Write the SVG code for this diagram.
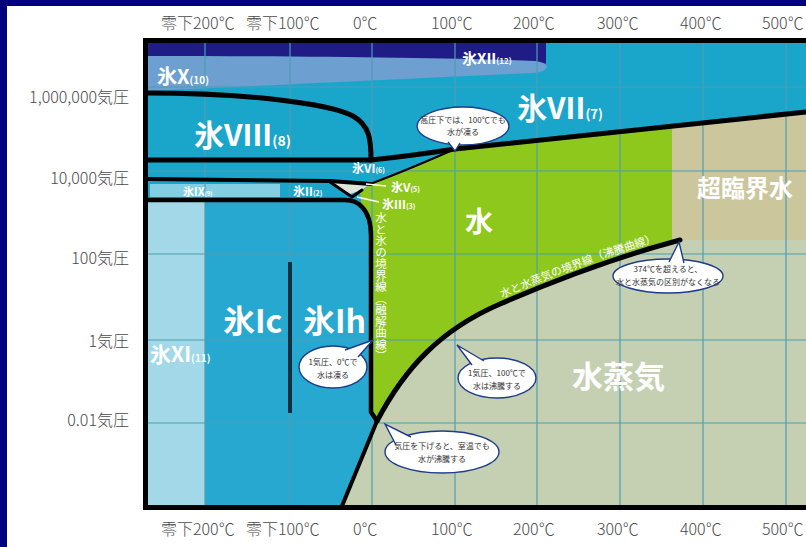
<svg xmlns="http://www.w3.org/2000/svg" width="806" height="547" viewBox="0 0 806 547">
<style>
.ax{font-family:"Noto Sans CJK JP","Noto Sans",sans-serif;font-size:16px;font-weight:300;fill:#4a4a4a}
.ay{font-family:"Noto Sans CJK JP","Noto Sans",sans-serif;font-size:16px;font-weight:300;fill:#4a4a4a;text-anchor:end}
.lb{font-family:"Noto Sans CJK JP","Noto Sans",sans-serif;font-weight:bold;fill:#fff}
.lt{font-family:"Noto Sans CJK JP","Noto Sans",sans-serif;font-weight:normal;fill:#fff}
.grid line{stroke:#4d9eb1;stroke-width:1.2}
.bl{stroke:#000;fill:none;stroke-linecap:round;stroke-linejoin:round}
.co{fill:#fff;stroke:#1f3c8c;stroke-width:1.4}
.ct{font-family:"Noto Sans CJK JP",sans-serif;font-size:8px;fill:#333;text-anchor:middle}
.ptr{stroke:#fff;stroke-width:1.3}
</style>
<rect width="806" height="547" fill="#fff"/>
<rect width="806" height="6" fill="#01017f"/>
<rect width="7" height="547" fill="#01017f"/>

<g id="axis-x-top">
<text class="ax" x="161" y="29">零下200℃</text>
<text class="ax" x="246" y="29">零下100℃</text>
<text class="ax" x="353" y="29">0℃</text>
<text class="ax" x="431" y="29">100℃</text>
<text class="ax" x="513" y="29">200℃</text>
<text class="ax" x="597" y="29">300℃</text>
<text class="ax" x="680" y="29">400℃</text>
<text class="ax" x="762" y="29">500℃</text>
</g>
<g id="axis-x-bottom">
<text class="ax" x="161" y="535">零下200℃</text>
<text class="ax" x="246" y="535">零下100℃</text>
<text class="ax" x="353" y="535">0℃</text>
<text class="ax" x="431" y="535">100℃</text>
<text class="ax" x="513" y="535">200℃</text>
<text class="ax" x="597" y="535">300℃</text>
<text class="ax" x="680" y="535">400℃</text>
<text class="ax" x="762" y="535">500℃</text>
</g>
<g id="axis-y">
<text class="ay" x="129" y="103">1,000,000気圧</text>
<text class="ay" x="129" y="184">10,000気圧</text>
<text class="ay" x="129" y="264">100気圧</text>
<text class="ay" x="129" y="347">1気圧</text>
<text class="ay" x="129" y="426">0.01気圧</text>
</g>

<g id="regions">
<rect x="147" y="42" width="659" height="464" fill="#1aa6cb"/>
<path id="ice-top" d="M147,42 H546 V61 Q546,69 538,69 H147 Z" fill="#1f1c86"/>
<path id="ice-x" d="M147,56 C300,56 460,58 535,61 Q548,63 547,67 Q546,72 533,73 C460,76 300,84 147,91 Z" fill="#6d9fd0"/>
<path id="water" d="M360,193 L370,184 Q405,171 455,149 L672,126 L672,240 L680,240 C620,256 560,278 500,304 C440,330 405,368 377,421 L371,412 L371,236 Q371,216 362,207 Z" fill="#8fc81c"/>
<path id="supercritical" d="M672,126 L806,112 V240 H672 Z" fill="#cbc69c"/>
<path id="vapor" d="M342,506 L377,421 C405,368 440,330 500,304 C560,278 620,256 680,240 L806,240 V506 Z" fill="#c4d0b1"/>
<path id="ice-ih" d="M205,201 H345 Q356,201 362,207 Q371,216 371,236 V412 L377,421 L342,506 H205 Z" fill="#27a8d1"/>
<rect id="ice-xi" x="147" y="202" width="58" height="304" fill="#a3d8e9"/>
<rect id="ice-ix" x="150" y="184" width="130" height="13" fill="#84cee4"/>
<polygon id="ice-v" points="330,182 370,184 362,190 350,194" fill="#e2e6da"/>
</g>

<g class="grid" id="grid">
<line x1="205" y1="43" x2="205" y2="506"/>
<line x1="290" y1="43" x2="290" y2="506"/>
<line x1="372" y1="43" x2="372" y2="506"/>
<line x1="455" y1="43" x2="455" y2="506"/>
<line x1="537" y1="43" x2="537" y2="506"/>
<line x1="620" y1="43" x2="620" y2="506"/>
<line x1="703" y1="43" x2="703" y2="506"/>
<line x1="786" y1="43" x2="786" y2="506"/>
<line x1="147" y1="87" x2="806" y2="87"/>
<line x1="147" y1="171" x2="806" y2="171"/>
<line x1="147" y1="254" x2="806" y2="254"/>
<line x1="147" y1="340" x2="806" y2="340"/>
<line x1="147" y1="423" x2="806" y2="423"/>
</g>

<g id="connectors">
<path class="bl" stroke-width="5" d="M147,93 C250,93 330,104 353,116 C370,126 371,140 371,160"/>
<path class="bl" stroke-width="5" d="M147,160 L371,160 Q410,156 455,149 L806,112"/>
<path class="bl" stroke-width="2" d="M370,184 Q405,171 455,149"/>
<path class="bl" stroke-width="4" d="M147,179 L330,181 L371,184"/>
<path class="bl" stroke-width="3" d="M330,182 L352,197 L362,190"/>
<path class="bl" stroke-width="4.5" d="M147,200 L345,200 Q356,200 362,207 Q371,216 371,236 L371,412 L377,421"/>
<path class="bl" stroke-width="5" d="M377,421 C405,368 440,330 500,304 C560,278 620,256 680,240"/>
<path class="bl" stroke-width="4" d="M377,421 L342,506"/>
<path stroke="#0d2f3e" stroke-width="4" d="M290,262 V413"/>
<line class="ptr" x1="366" y1="184" x2="386" y2="186"/>
<line class="ptr" x1="357" y1="197" x2="379" y2="202"/>
</g>

<rect x="145.5" y="40.5" width="700" height="467" fill="none" stroke="#000" stroke-width="5"/>

<g id="labels">
<text class="lb" x="517" y="119" font-size="30">氷VII<tspan font-size="13">(7)</tspan></text>
<text class="lb" x="194" y="146" font-size="30">氷VIII<tspan font-size="14">(8)</tspan></text>
<text class="lb" x="157" y="84" font-size="20">氷X<tspan font-size="10">(10)</tspan></text>
<text class="lb" x="462" y="64" font-size="15">氷XII<tspan font-size="8">(12)</tspan></text>
<text class="lb" x="697" y="197" font-size="24">超臨界水</text>
<text class="lb" x="465" y="232" font-size="28">水</text>
<text class="lb" x="223" y="333" font-size="32">氷Ic</text>
<text class="lb" x="303" y="333" font-size="32">氷Ih</text>
<text class="lb" x="150" y="362" font-size="21">氷XI<tspan font-size="10">(11)</tspan></text>
<text class="lb" x="572" y="388" font-size="31">水蒸気</text>
<text class="lb" x="352" y="173" font-size="12">氷VI<tspan font-size="7">(6)</tspan></text>
<text class="lb" x="391" y="192" font-size="12">氷V<tspan font-size="7">(5)</tspan></text>
<text class="lb" x="382" y="209" font-size="12">氷III<tspan font-size="7">(3)</tspan></text>
<text class="lb" x="293" y="196" font-size="12">氷II<tspan font-size="7">(2)</tspan></text>
<text class="lb" x="183" y="196" font-size="11">氷IX<tspan font-size="6">(9)</tspan></text>
<text class="lt" x="381" y="212" font-size="11.5" style="writing-mode:tb">水と氷の境界線（融解曲線）</text>
<g id="boil-label" class="lt" font-size="11">
<text transform="translate(502,298) rotate(-22.5)">水と水蒸気の</text>
<text transform="translate(563,273.5) rotate(-20.5)">境界線</text>
<text transform="translate(594,261.5) rotate(-18)">（沸騰曲線）</text>
</g>
</g>

<g id="callout-highpressure">
<ellipse class="co" cx="463" cy="126" rx="46" ry="19"/>
<polyline class="co" points="448,142 455,151 460,143"/>
<text class="ct" x="463" y="123">高圧下では、100℃でも</text>
<text class="ct" x="463" y="135">水が凍る</text>
</g>
<g id="callout-critical">
<ellipse class="co" cx="668" cy="276" rx="55" ry="17"/>
<polyline class="co" points="669,262 679,242 684,263"/>
<text class="ct" x="668" y="272">374℃を超えると、</text>
<text class="ct" x="668" y="285">水と水蒸気の区別がなくなる</text>
</g>
<g id="callout-freeze">
<ellipse class="co" cx="333" cy="367" rx="34" ry="21"/>
<polyline class="co" points="345,350 373,340 358,357"/>
<text class="ct" x="333" y="365" font-size="9">1気圧、0℃で</text>
<text class="ct" x="333" y="378" font-size="9">水は凍る</text>
</g>
<g id="callout-boil">
<ellipse class="co" cx="497" cy="378" rx="39" ry="20"/>
<polyline class="co" points="472,365 457,345 484,361"/>
<text class="ct" x="497" y="376" font-size="8.5">1気圧、100℃で</text>
<text class="ct" x="497" y="389" font-size="8.5">水は沸騰する</text>
</g>
<g id="callout-lowpressure">
<ellipse class="co" cx="442" cy="452" rx="57" ry="21"/>
<polyline class="co" points="396,445 385,424 411,437"/>
<text class="ct" x="442" y="449" font-size="8.5">気圧を下げると、室温でも</text>
<text class="ct" x="442" y="462" font-size="8.5">水が沸騰する</text>
</g>
</svg>
